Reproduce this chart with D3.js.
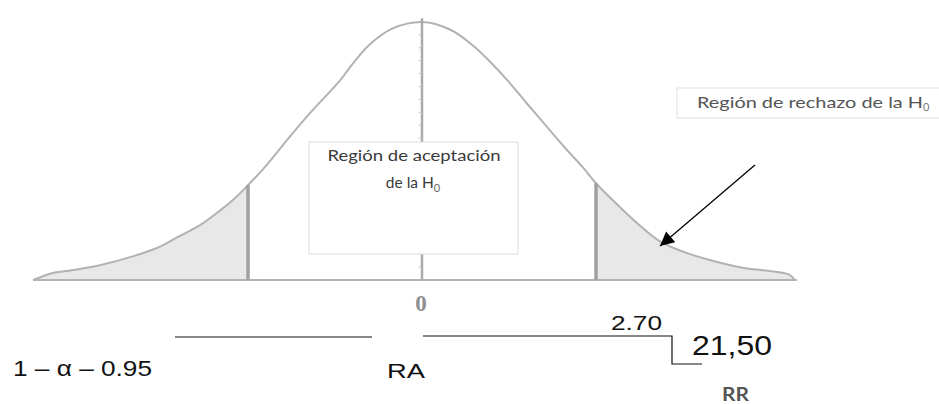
<!DOCTYPE html>
<html>
<head>
<meta charset="utf-8">
<script src="https://cdn.jsdelivr.net/npm/d3@7"></script>
<style>
html,body{margin:0;padding:0;background:#fff;}
svg{display:block;}
</style>
</head>
<body>
<svg id="chart" width="939" height="404"></svg>
<script>
// ---- data (z units / density) ----
const curveZ = [-4.38,-4.16,-4.00,-3.63,-3.25,-2.98,-2.76,-2.50,-2.31,-2.13,-1.96,-1.79,-1.49,-1.26,-0.92,-0.81,-0.59,-0.33,0,
                0.32,0.57,0.77,0.96,1.18,1.41,1.63,1.81,1.96,2.23,2.45,2.68,2.98,3.24,3.61,4.14,4.20];
const curveDensity = [0,0.011,0.014,0.023,0.037,0.050,0.066,0.085,0.104,0.124,0.147,0.172,0.222,0.259,0.310,0.330,0.365,0.390,0.400,
                0.388,0.364,0.338,0.310,0.274,0.237,0.202,0.175,0.150,0.113,0.085,0.060,0.042,0.031,0.019,0.008,0];
const criticalValues = [-1.96, 1.96];
const axisTicks = [0];
const axisTickLabels = ["0"];
const centerTicks = [0.02,0.04,0.06,0.08,0.10,0.12,0.14,0.16,0.18,0.20,0.22,0.24,0.26,0.28,0.30,0.32,0.34,0.36,0.38];
const acceptText = ["Región de aceptación", "de la H"];
const rejectText = "Región de rechazo  de la H";
const subText = "0";
const bottomLabels = ["1 – α – 0.95", "RA", "2.70", "21,50", "RR"];

const svg = d3.select("#chart");
const x = d3.scaleLinear().domain([-1.96, 1.96]).range([248, 596]);
const y = d3.scaleLinear().domain([0, 0.4]).range([280, 22]);

const pts = curveZ.map((z,i)=>({z, d: curveDensity[i]}));
const smooth = d3.curveCatmullRom.alpha(0.5);

// shaded tails
const area = d3.area().x(p=>x(p.z)).y0(y(0)).y1(p=>y(p.d)).curve(smooth);
svg.append("path").datum(pts.filter(p=>p.z<=criticalValues[0]))
  .attr("d", area).attr("fill","#e8e8e8");
svg.append("path").datum(pts.filter(p=>p.z>=criticalValues[1]))
  .attr("d", area).attr("fill","#e8e8e8");

// baseline
svg.append("line").attr("x1", x(curveZ[0])).attr("x2", x(curveZ[curveZ.length-1])+2)
  .attr("y1", y(0)).attr("y2", y(0)).attr("stroke","#b4b4b4").attr("stroke-width",2);

// curve
const line = d3.line().x(p=>x(p.z)).y(p=>y(p.d)).curve(smooth);
svg.append("path").datum(pts).attr("d", line)
  .attr("fill","none").attr("stroke","#b2b2b2").attr("stroke-width",2);

// center line with small ticks
svg.append("line").attr("x1", x(0)).attr("x2", x(0)).attr("y1", y(0.406)).attr("y2", y(0))
  .attr("stroke","#aaaaaa").attr("stroke-width",2.5);
svg.selectAll(".ct").data(centerTicks).join("line")
  .attr("x1", x(0)-3.5).attr("x2", x(0)).attr("y1", d=>y(d)).attr("y2", d=>y(d))
  .attr("stroke","#c4c4c4").attr("stroke-width",1);

// critical lines
criticalValues.forEach(c=>{
  const i = curveZ.indexOf(c);
  svg.append("line").attr("x1", x(c)).attr("x2", x(c)).attr("y1", y(curveDensity[i])).attr("y2", y(0))
    .attr("stroke","#a0a0a0").attr("stroke-width",3.5);
});

// axis tick label
svg.selectAll(".tl").data(axisTicks).join("text")
  .attr("x", d=>x(d)-1).attr("y", 311).attr("text-anchor","middle")
  .attr("font-family","Liberation Serif").attr("font-weight","bold").attr("font-size",23)
  .attr("fill","#8e8e8e").text((d,i)=>axisTickLabels[i]);

// acceptance box
svg.append("rect").attr("x",309).attr("y",142).attr("width",209).attr("height",112)
  .attr("fill","#fff").attr("stroke","#dedede").attr("stroke-width",1);
svg.append("text").attr("x",414).attr("y",161).attr("text-anchor","middle")
  .attr("font-family","Lato").attr("font-size",15.5).attr("fill","#3a3a3a")
  .attr("textLength",173).attr("lengthAdjust","spacingAndGlyphs").text(acceptText[0]);
const t2 = svg.append("text").attr("x",413).attr("y",188).attr("text-anchor","middle")
  .attr("font-family","Lato").attr("font-size",15.5).attr("fill","#3a3a3a");
t2.append("tspan").text(acceptText[1]);
t2.append("tspan").attr("dy",4).attr("font-size",11).attr("fill","#666").text(subText);

// rejection box
svg.append("rect").attr("x",677).attr("y",88).attr("width",264).attr("height",30)
  .attr("fill","#fff").attr("stroke","#e0e0e0").attr("stroke-width",1);
const t3 = svg.append("text").attr("x",697).attr("y",108)
  .attr("font-family","Lato").attr("font-size",15).attr("fill","#555");
t3.append("tspan").attr("textLength",226).attr("lengthAdjust","spacingAndGlyphs").text(rejectText);
t3.append("tspan").attr("dy",3).attr("font-size",11).attr("fill","#777").text(subText);

// arrow
svg.append("defs").append("marker").attr("id","ah")
  .attr("viewBox","0 0 10 10").attr("refX",10).attr("refY",5)
  .attr("markerWidth",16).attr("markerHeight",14).attr("markerUnits","userSpaceOnUse")
  .attr("orient","auto")
  .append("path").attr("d","M0,0 L10,5 L0,10 z").attr("fill","#000");
svg.append("line").attr("x1",755).attr("y1",165).attr("x2",660).attr("y2",246)
  .attr("stroke","#000").attr("stroke-width",1.3).attr("marker-end","url(#ah)");

// bottom annotation lines
const blk = "#111";
svg.append("line").attr("x1",175).attr("x2",372).attr("y1",337).attr("y2",337).attr("stroke",blk).attr("stroke-width",1.2);
svg.append("polyline").attr("points","423,336 672,336 672,364 702,364")
  .attr("fill","none").attr("stroke",blk).attr("stroke-width",1.2);

// bottom labels
const lab = (txt, xx, yy, size, len, opts={})=>{
  svg.append("text").attr("x",xx).attr("y",yy)
    .attr("font-family", opts.family || "Liberation Sans")
    .attr("font-weight", opts.weight || "normal")
    .attr("font-size",size).attr("fill", opts.fill || "#111")
    .attr("textLength",len).attr("lengthAdjust","spacingAndGlyphs").text(txt);
};
lab(bottomLabels[0], 13, 376, 22, 139);
lab(bottomLabels[1], 387, 378, 21, 38);
lab(bottomLabels[2], 611, 330, 19.5, 51);
lab(bottomLabels[3], 692, 355, 28, 80);
lab(bottomLabels[4], 722, 401, 18, 27, {family:"Lato", weight:"bold", fill:"#555"});
</script>
</body>
</html>
